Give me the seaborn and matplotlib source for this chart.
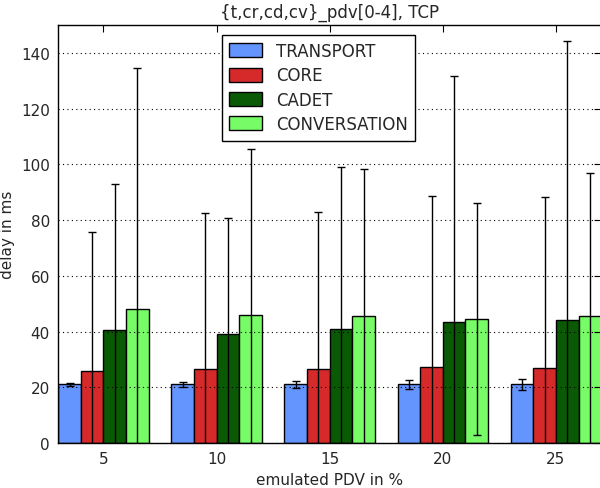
import matplotlib
matplotlib.use("Agg")
import matplotlib.pyplot as plt
import seaborn as sns
import pandas as pd
import numpy as np

pdv = ["5", "10", "15", "20", "25"]
series = ["TRANSPORT", "CORE", "CADET", "CONVERSATION"]
transport = [21.0, 21.0, 21.0, 21.0, 21.0]
core = [25.7, 26.5, 26.5, 27.2, 27.0]
cadet = [40.5, 39.0, 41.0, 43.5, 44.0]
conversation = [48.0, 46.0, 45.5, 44.5, 45.5]
transport_err = [0.5, 1.0, 1.3, 1.5, 2.0]
core_err = [50.0, 56.0, 56.3, 61.5, 61.2]
cadet_err = [52.3, 41.9, 58.0, 88.1, 100.4]
conversation_err = [86.5, 59.5, 52.7, 41.7, 51.4]
colors = ["#6495ff", "#d62a2a", "#0a5a05", "#77fb66"]

vals = [transport, core, cadet, conversation]
errs = [transport_err, core_err, cadet_err, conversation_err]
rows = []
for s, v, e in zip(series, vals, errs):
    for p, vv, ee in zip(pdv, v, e):
        rows.append({"pdv": p, "series": s, "delay": vv, "err": ee})
df = pd.DataFrame(rows)

sns.set_style("white")
plt.rcParams['font.family'] = ['DejaVu Sans']
fig = plt.figure(figsize=(6.0, 4.89), dpi=100)
ax = fig.add_axes([0.097, 0.092, 0.905, 0.855])
sns.barplot(data=df, x="pdv", y="delay", hue="series", order=pdv,
            hue_order=series, palette=colors, errorbar=None,
            edgecolor="black", linewidth=1.0, width=0.8, saturation=1,
            ax=ax)

# error bars at bar centers
for container, s in zip(ax.containers, series):
    sub = df[df.series == s].set_index("pdv").loc[pdv]
    xs = [b.get_x() + b.get_width() / 2 for b in container]
    hs = [b.get_height() for b in container]
    ax.errorbar(xs, hs, yerr=sub["err"].values, fmt="none", ecolor="black",
                elinewidth=1.0, capsize=3, capthick=1.0, zorder=5)

ax.set_xlim(-0.4, 4.4)
ax.set_ylim(0, 150)
ax.set_yticks(np.arange(0, 141, 20))
ax.yaxis.grid(True, linestyle=(0, (1, 3)), color="black", linewidth=0.8)
ax.set_axisbelow(False)
for l in ax.get_ygridlines():
    l.set_zorder(0.5)
ax.tick_params(direction="in", top=True, right=True, length=5, labelsize=11,
               pad=6, color="black")
ax.set_xlabel("emulated PDV in %", fontsize=11)
ax.set_ylabel("delay in ms", fontsize=11)
ax.set_title("{t,cr,cd,cv}_pdv[0-4], TCP", fontsize=12)
for sp in ax.spines.values():
    sp.set_color("black")
    sp.set_linewidth(1.0)
leg = ax.legend(loc="upper center", fontsize=12, frameon=True, fancybox=False,
                handlelength=2.0, handleheight=0.9, borderpad=0.45,
                labelspacing=0.38, bbox_to_anchor=(0.479, 0.997))
leg.get_frame().set_edgecolor("black")
leg.get_frame().set_linewidth(1.0)
leg.get_frame().set_alpha(1)
fig.savefig("out.png", dpi=100)
